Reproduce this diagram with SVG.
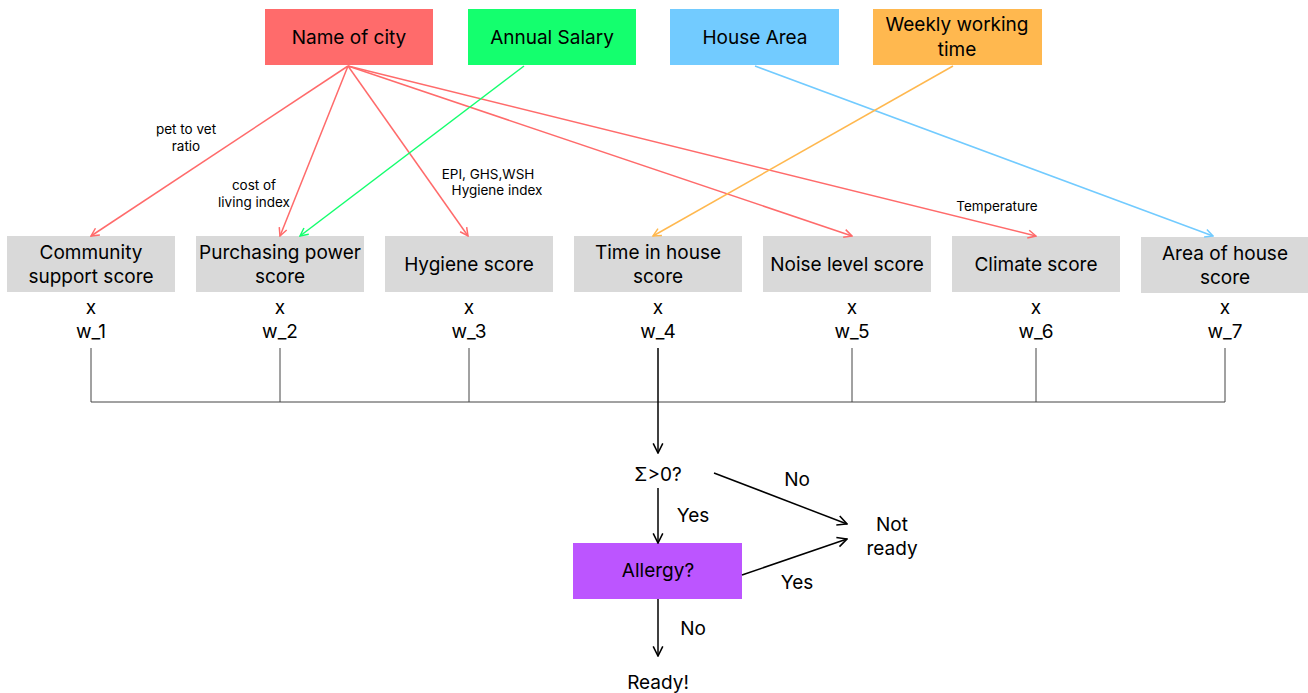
<svg xmlns="http://www.w3.org/2000/svg" width="1308" height="693" viewBox="0 0 1308 693">
<defs>
<style>
text{font-family:Inter,"Noto Sans","Liberation Sans",sans-serif;fill:#000;text-anchor:middle}
.t{font-size:19px}
.s{font-size:13.5px}
.sc{fill:#D9D9D9}
.ln{fill:none;stroke-width:1.5}
.k{stroke:#000}
.g{stroke:#444;stroke-width:1;fill:none}
</style>
<marker id="mr" viewBox="0 0 10 10" refX="9" refY="5" markerWidth="10" markerHeight="10" markerUnits="userSpaceOnUse" orient="auto"><path d="M1,1 L9,5 L1,9" fill="none" stroke="#FF6B6B" stroke-width="1.5"/></marker>
<marker id="mg" viewBox="0 0 10 10" refX="9" refY="5" markerWidth="10" markerHeight="10" markerUnits="userSpaceOnUse" orient="auto"><path d="M1,1 L9,5 L1,9" fill="none" stroke="#14FF6E" stroke-width="1.5"/></marker>
<marker id="mb" viewBox="0 0 10 10" refX="9" refY="5" markerWidth="10" markerHeight="10" markerUnits="userSpaceOnUse" orient="auto"><path d="M1,1 L9,5 L1,9" fill="none" stroke="#72CBFF" stroke-width="1.5"/></marker>
<marker id="mo" viewBox="0 0 10 10" refX="9" refY="5" markerWidth="10" markerHeight="10" markerUnits="userSpaceOnUse" orient="auto"><path d="M1,1 L9,5 L1,9" fill="none" stroke="#FFB84F" stroke-width="1.5"/></marker>
<marker id="mk" viewBox="0 0 10 10" refX="9" refY="5" markerWidth="12" markerHeight="12" markerUnits="userSpaceOnUse" orient="auto"><path d="M1,1 L9,5 L1,9" fill="none" stroke="#000" stroke-width="1.3"/></marker>
</defs>
<rect width="1308" height="693" fill="#fff"/>

<g id="city"><rect x="265" y="9" width="168" height="56" fill="#FF6B6B"/><text class="t" x="349" y="44">Name of city</text></g>
<g id="salary"><rect x="468" y="9" width="168" height="56" fill="#14FF6E"/><text class="t" x="552" y="44">Annual Salary</text></g>
<g id="area"><rect x="670" y="9" width="169" height="56" fill="#72CBFF"/><text class="t" x="755" y="44">House Area</text></g>
<g id="weekly"><rect x="873" y="9" width="169" height="56" fill="#FFB84F"/><text class="t" x="957" y="31">Weekly working</text><text class="t" x="957" y="56">time</text></g>

<g id="community"><rect class="sc" x="7" y="236" width="168" height="56"/><text class="t" x="91" y="259">Community</text><text class="t" x="91" y="283">support score</text><text class="t" x="91" y="314">x</text><text class="t" x="91" y="338">w_1</text></g>
<g id="purchasing"><rect class="sc" x="196" y="236" width="168" height="56"/><text class="t" x="280" y="259">Purchasing power</text><text class="t" x="280" y="283">score</text><text class="t" x="280" y="314">x</text><text class="t" x="280" y="338">w_2</text></g>
<g id="hygiene"><rect class="sc" x="385" y="236" width="168" height="56"/><text class="t" x="469" y="271">Hygiene score</text><text class="t" x="469" y="314">x</text><text class="t" x="469" y="338">w_3</text></g>
<g id="time"><rect class="sc" x="574" y="236" width="168" height="56"/><text class="t" x="658" y="259">Time in house</text><text class="t" x="658" y="283">score</text><text class="t" x="658" y="314">x</text><text class="t" x="658" y="338">w_4</text></g>
<g id="noise"><rect class="sc" x="763" y="236" width="168" height="56"/><text class="t" x="847" y="271">Noise level score</text><text class="t" x="852" y="314">x</text><text class="t" x="852" y="338">w_5</text></g>
<g id="climate"><rect class="sc" x="952" y="236" width="168" height="56"/><text class="t" x="1036" y="271">Climate score</text><text class="t" x="1036" y="314">x</text><text class="t" x="1036" y="338">w_6</text></g>
<g id="areascore"><rect class="sc" x="1141" y="237" width="168" height="56"/><text class="t" x="1225" y="260">Area of house</text><text class="t" x="1225" y="284">score</text><text class="t" x="1225" y="314">x</text><text class="t" x="1225" y="338">w_7</text></g>

<g id="sigma"><text class="t" x="658" y="481">Σ&gt;0?</text></g>
<g id="allergy"><rect x="573" y="543" width="169" height="56" fill="#BC55FF"/><text class="t" x="658" y="577">Allergy?</text></g>
<g id="notready"><text class="t" x="892" y="531">Not</text><text class="t" x="892" y="555">ready</text></g>
<g id="ready"><text class="t" x="658" y="689">Ready!</text></g>

<g id="connectors">
<line class="ln" stroke="#FF6B6B" x1="348" y1="66" x2="91" y2="236" marker-end="url(#mr)"/>
<line class="ln" stroke="#FF6B6B" x1="348" y1="66" x2="280" y2="236" marker-end="url(#mr)"/>
<line class="ln" stroke="#FF6B6B" x1="348" y1="66" x2="468" y2="236" marker-end="url(#mr)"/>
<line class="ln" stroke="#FF6B6B" x1="348" y1="66" x2="852" y2="236" marker-end="url(#mr)"/>
<line class="ln" stroke="#FF6B6B" x1="348" y1="66" x2="1036" y2="236" marker-end="url(#mr)"/>
<line class="ln" stroke="#14FF6E" x1="524" y1="66" x2="300" y2="236" marker-end="url(#mg)"/>
<line class="ln" stroke="#72CBFF" x1="755" y1="66" x2="1213" y2="236" marker-end="url(#mb)"/>
<line class="ln" stroke="#FFB84F" x1="953" y1="66" x2="653" y2="236" marker-end="url(#mo)"/>
<text class="s" x="186" y="134">pet to vet</text>
<text class="s" x="186" y="151">ratio</text>
<text class="s" x="254" y="190">cost of</text>
<text class="s" x="254" y="207">living index</text>
<text class="s" x="488" y="179" font-size="13px">EPI, GHS,WSH</text>
<text class="s" x="497" y="195" font-size="13px">Hygiene index</text>
<text class="s" x="997" y="211">Temperature</text>

<path class="g" d="M91,348V402M280,348V402M469,348V402M852,348V402M1036,348V402M1225,348V402M91,402H1225"/>
<line class="ln k" x1="658" y1="348" x2="658" y2="453" stroke-width="1.3" marker-end="url(#mk)"/>
<line class="ln k" x1="658" y1="488" x2="658" y2="543" stroke-width="1.3" marker-end="url(#mk)"/>
<line class="ln k" x1="658" y1="599" x2="658" y2="656" stroke-width="1.3" marker-end="url(#mk)"/>
<line class="ln k" x1="714" y1="473" x2="847" y2="524" stroke-width="1.3" marker-end="url(#mk)"/>
<line class="ln k" x1="742" y1="575" x2="847" y2="539" stroke-width="1.3" marker-end="url(#mk)"/>
<text class="t" x="693" y="522">Yes</text>
<text class="t" x="797" y="486">No</text>
<text class="t" x="797" y="589">Yes</text>
<text class="t" x="693" y="635">No</text>
</g>
</svg>
